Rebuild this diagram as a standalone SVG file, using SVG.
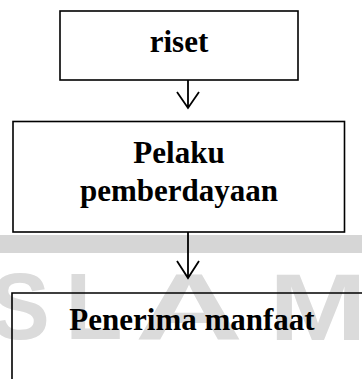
<svg xmlns="http://www.w3.org/2000/svg" width="362" height="379" viewBox="0 0 362 379">
  <style>
    .box { fill: none; stroke: #000; stroke-width: 1.6; }
    .label { font-family: "Liberation Serif", "Times New Roman", serif; font-weight: bold; font-size: 31px; fill: #000; text-anchor: middle; }
    .wire { fill: none; stroke: #000; stroke-width: 1.8; }
    .mark { font-family: "Liberation Sans", Arial, sans-serif; font-weight: bold; font-size: 94px; fill: #dbdbdb; text-anchor: middle; }
  </style>
  <rect width="362" height="379" fill="#fff"/>

  <!-- background watermark -->
  <g id="watermark">
    <rect x="0" y="235" width="362" height="18" fill="#d6d6d6"/>
    <text class="mark" transform="translate(20 339) scale(0.95 1)">S</text>
    <text class="mark" transform="translate(94 339)">L</text>
    <text class="mark" transform="translate(189 340) scale(1.6 1)">A</text>
    <text class="mark" transform="translate(318 340) scale(1.25 1)">M</text>
  </g>

  <g id="node-riset">
    <rect class="box" x="60" y="11" width="238" height="69"/>
    <text class="label" x="179" y="52">riset</text>
  </g>

  <g id="node-pelaku">
    <rect class="box" x="13" y="121.5" width="331.5" height="110.5"/>
    <text class="label" x="179" y="163">Pelaku</text>
    <text class="label" x="179" y="201">pemberdayaan</text>
  </g>

  <g id="node-penerima">
    <path class="box" d="M12 379 V293 H362"/>
    <text class="label" x="192" y="330">Penerima manfaat</text>
  </g>

  <g id="connectors">
    <path class="wire" d="M188 80 V108 M177 92 L188 108 L199 92"/>
    <path class="wire" d="M188 232 V278 M177 261 L188 278 L199 261"/>
  </g>
</svg>
